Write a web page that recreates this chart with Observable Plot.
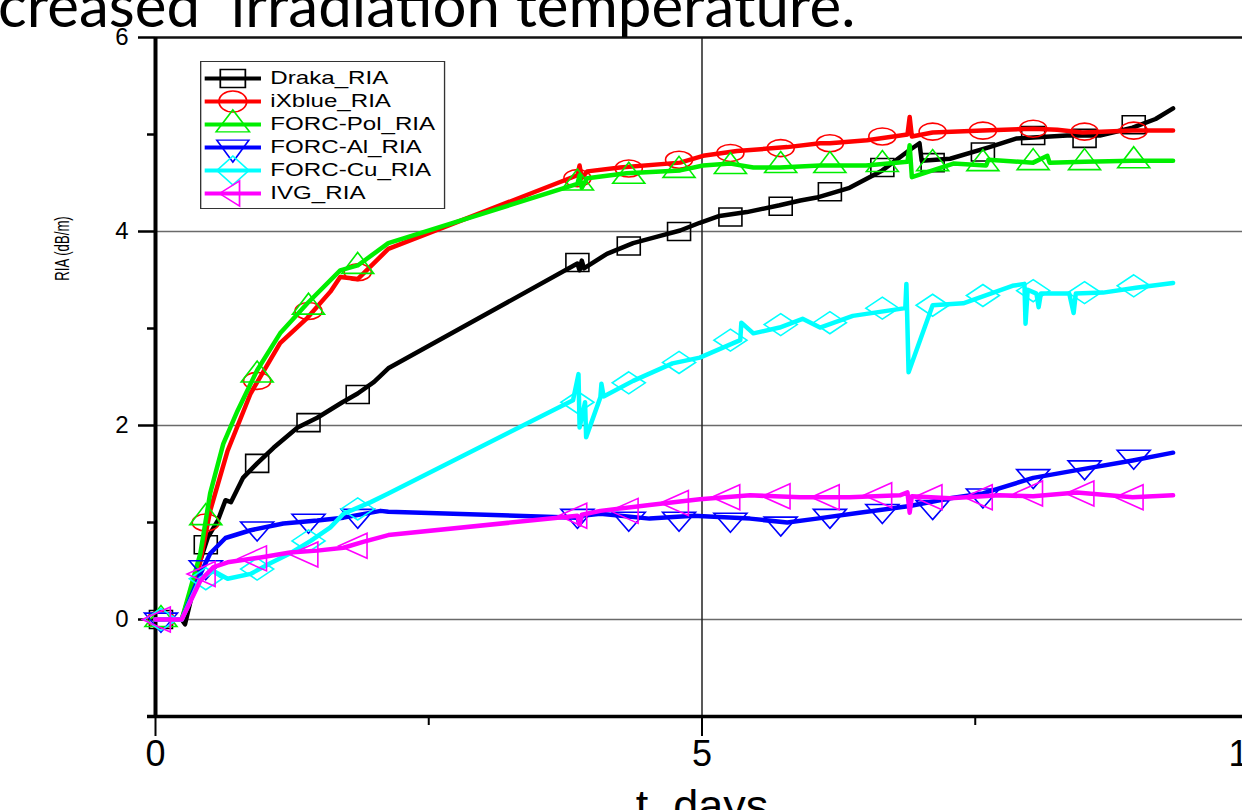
<!DOCTYPE html>
<html><head><meta charset="utf-8">
<script src="https://cdn.jsdelivr.net/npm/d3@7"></script>
<script src="https://cdn.jsdelivr.net/npm/@observablehq/plot@0.6"></script>
<style>
html,body{margin:0;padding:0;background:#fff;overflow:hidden;width:1242px;height:810px;}
#wrap{position:relative;width:1242px;height:810px;overflow:hidden;background:#fff;}
#chart{position:absolute;left:0;top:0;width:1262px;height:810px;}
#title{position:absolute;left:-2px;top:-16px;font-family:Lato,'Open Sans',sans-serif;font-size:60px;line-height:40px;height:40px;white-space:pre;color:#000;}
#legend{position:absolute;left:200px;top:61px;}
</style></head><body>
<div id="wrap"><div id="chart"></div><div id="title"></div><div id="legend"></div></div>
<script>
// ---------- data (t in days, RIA in dB/m) ----------
const seriesNames = ["Draka_RIA","iXblue_RIA","FORC-Pol_RIA","FORC-Al_RIA","FORC-Cu_RIA","IVG_RIA"];
const seriesColors = ["#000000","#ff0000","#00ee00","#0000ff","#00ffff","#ff00ff"];
const titleText = "creased  irradiation temperature.";
const xLabel = "t, days";
const yLabel = "RIA (dB/m)";
const majorX = [0,5,10], minorX = [2.5,7.5];
const majorY = [0,2,4,6], minorY = [-1,1,3,5];

const drakaT = [0,0.24,0.27,0.41,0.48,0.57,0.64,0.69,0.80,0.93,1.08,1.30,1.48,1.71,1.85,2.00,2.13,3.86,3.88,3.90,3.92,4.13,4.37,4.60,4.80,4.98,5.16,5.41,5.71,5.90,6.05,6.35,6.65,6.90,6.99,7.01,7.27,7.63,7.88,8.03,8.34,8.64,8.94,9.15,9.31];
const drakaV = [0,0,-0.05,0.61,0.85,1.02,1.23,1.21,1.46,1.61,1.77,1.98,2.08,2.24,2.33,2.45,2.59,3.67,3.60,3.70,3.62,3.77,3.88,3.95,4.01,4.09,4.16,4.20,4.27,4.32,4.35,4.45,4.63,4.84,4.91,4.73,4.75,4.87,4.96,4.97,4.99,4.99,5.07,5.16,5.27];

const ixblueT = [0,0.24,0.41,0.50,0.66,0.87,1.14,1.39,1.60,1.69,1.85,2.13,3.86,3.88,3.90,3.95,4.25,4.80,5.01,5.32,5.78,6.08,6.17,6.51,6.88,6.90,6.92,7.11,7.57,8.03,8.25,8.48,8.94,9.31];
const ixblueV = [0,0,0.60,1.12,1.74,2.33,2.85,3.11,3.38,3.53,3.51,3.82,4.58,4.68,4.55,4.62,4.66,4.71,4.78,4.83,4.87,4.91,4.91,4.94,5.00,5.18,4.98,5.02,5.04,5.06,5.05,5.02,5.04,5.04];

const polT = [0,0.24,0.41,0.50,0.62,0.75,0.93,1.14,1.39,1.69,1.85,2.13,3.86,3.88,3.90,3.95,4.31,4.80,5.01,5.26,5.47,5.71,6.08,6.50,6.88,6.90,6.92,7.30,7.60,7.62,8.03,8.16,8.18,8.50,8.94,9.31];
const polV = [0,0,0.68,1.30,1.81,2.15,2.57,2.95,3.26,3.60,3.65,3.88,4.49,4.58,4.45,4.55,4.60,4.63,4.68,4.70,4.66,4.66,4.68,4.68,4.72,4.89,4.56,4.70,4.68,4.74,4.71,4.78,4.71,4.72,4.73,4.73];

const alT = [0,0.24,0.41,0.50,0.64,0.87,1.17,1.48,1.72,2.06,2.13,3.86,3.88,3.90,4.07,4.52,4.92,5.44,5.78,6.05,6.44,6.90,7.27,7.57,8.03,8.43,8.94,9.31];
const alV = [0,0,0.47,0.68,0.84,0.92,0.99,1.02,1.05,1.12,1.11,1.05,0.98,1.07,1.09,1.04,1.07,1.04,1.00,1.04,1.10,1.17,1.25,1.30,1.46,1.54,1.64,1.72];

const cuT = [0,0.24,0.41,0.53,0.66,0.87,1.05,1.23,1.42,1.60,1.72,1.97,2.13,3.82,3.87,3.88,3.93,3.94,4.07,4.08,4.10,4.37,4.73,4.98,5.35,5.36,5.47,5.71,5.92,6.08,6.38,6.86,6.87,6.89,7.11,7.39,7.84,7.95,7.96,7.98,8.06,8.08,8.10,8.36,8.40,8.42,8.67,8.97,9.31];
const cuV = [0,0,0.42,0.50,0.42,0.47,0.58,0.68,0.81,0.95,1.09,1.21,1.30,2.26,2.53,1.98,2.24,1.88,2.29,2.43,2.30,2.46,2.64,2.70,2.88,3.06,2.95,3.01,3.10,3.01,3.13,3.21,3.46,2.55,3.24,3.26,3.44,3.46,3.05,3.40,3.36,3.22,3.36,3.36,3.16,3.36,3.37,3.42,3.47];

const ivgT = [0,0.24,0.41,0.53,0.66,0.96,1.23,1.48,1.72,1.90,2.13,3.86,3.88,3.90,4.07,4.52,4.98,5.44,5.90,6.35,6.81,6.88,6.90,6.92,7.27,7.72,8.03,8.43,8.94,9.31];
const ivgV = [0,0,0.40,0.54,0.59,0.64,0.69,0.71,0.74,0.80,0.87,1.07,0.98,1.08,1.12,1.18,1.24,1.28,1.26,1.26,1.28,1.31,1.10,1.27,1.25,1.28,1.27,1.31,1.26,1.28];

// symbol (marker) times, shared by all series
const markT = [0.05,0.46,0.93,1.40,1.85,3.86,4.33,4.79,5.26,5.72,6.17,6.65,7.11,7.57,8.03,8.50,8.95];
const drakaM  = [0,0.77,1.61,2.03,2.32,3.68,3.85,4.00,4.15,4.26,4.41,4.66,4.71,4.82,4.99,4.96,5.10];
const ixblueM = [0,1.00,2.46,3.18,3.58,4.55,4.65,4.74,4.81,4.86,4.91,4.98,5.03,5.04,5.06,5.03,5.04];
const polM    = [0,1.05,2.52,3.22,3.64,4.50,4.57,4.63,4.67,4.68,4.68,4.69,4.70,4.70,4.71,4.71,4.73];
const alM     = [0,0.54,0.94,1.02,1.07,1.07,1.04,1.04,1.03,0.99,1.07,1.12,1.16,1.28,1.48,1.57,1.68];
const cuM     = [0,0.42,0.52,0.81,1.14,2.24,2.44,2.65,2.88,3.04,3.06,3.21,3.24,3.34,3.39,3.37,3.44];
const ivgM    = [0,0.47,0.63,0.67,0.76,1.07,1.12,1.20,1.26,1.27,1.26,1.28,1.26,1.26,1.30,1.30,1.26];

// ---------- custom marker shapes ----------
function sym(kind, w, h) {
  return {draw(ctx) {
    const a = w / 2, b = h / 2, k = 0.5523;
    if (kind === "square") { ctx.moveTo(-a,-b); ctx.lineTo(a,-b); ctx.lineTo(a,b); ctx.lineTo(-a,b); ctx.closePath(); }
    else if (kind === "ellipse") { ctx.moveTo(a,0); ctx.bezierCurveTo(a,k*b,k*a,b,0,b); ctx.bezierCurveTo(-k*a,b,-a,k*b,-a,0); ctx.bezierCurveTo(-a,-k*b,-k*a,-b,0,-b); ctx.bezierCurveTo(k*a,-b,a,-k*b,a,0); ctx.closePath(); }
    else if (kind === "up") { ctx.moveTo(0,-2*h/3); ctx.lineTo(a,h/3); ctx.lineTo(-a,h/3); ctx.closePath(); }
    else if (kind === "down") { ctx.moveTo(0,2*h/3); ctx.lineTo(a,-h/3); ctx.lineTo(-a,-h/3); ctx.closePath(); }
    else if (kind === "diamond") { ctx.moveTo(0,-b); ctx.lineTo(a,0); ctx.lineTo(0,b); ctx.lineTo(-a,0); ctx.closePath(); }
    else if (kind === "left") { ctx.moveTo(-2*w/3,0); ctx.lineTo(w/3,-b); ctx.lineTo(w/3,b); ctx.closePath(); }
    else if (kind === "dash") { ctx.moveTo(-a,0); ctx.lineTo(a,0); }
  }};
}

const lineT = [drakaT, ixblueT, polT, alT, cuT, ivgT];
const lineV = [drakaV, ixblueV, polV, alV, cuV, ivgV];
const markV = [drakaM, ixblueM, polM, alM, cuM, ivgM];
const plotSyms = [sym("square",23,18), sym("ellipse",27,17), sym("up",32,21), sym("down",33,19), sym("diamond",33,22), sym("left",28,25)];
const legSyms  = [sym("square",18.7,18), sym("ellipse",20.7,21), sym("up",25,22), sym("down",24,22), sym("diamond",24,29), sym("left",15,25)];

const dataMarks = [];
seriesNames.forEach((name, i) => {
  const pts = lineT[i].map((t, j) => ({t, v: lineV[i][j]}));
  const mks = markT.map((t, j) => ({t, v: markV[i][j]}));
  dataMarks.push(Plot.line(pts, {x: "t", y: "v", stroke: seriesColors[i], strokeWidth: 4.5, strokeLinejoin: "round", strokeLinecap: "round"}));
  dataMarks.push(Plot.dot(mks, {x: "t", y: "v", symbol: plotSyms[i], stroke: seriesColors[i], fill: "none", strokeWidth: 1.6}));
});

const chart = Plot.plot({
  width: 1262, height: 810,
  marginLeft: 155, marginRight: 14, marginTop: 37, marginBottom: 94,
  x: {domain: [0, 10]},
  y: {domain: [-1, 6]},
  style: {fontFamily: "'Liberation Sans', Arial, sans-serif", background: "white", color: "black", overflow: "visible", maxWidth: "none"},
  marks: [
    Plot.gridY({ticks: [0, 2, 4], stroke: "#6a6a6a", strokeOpacity: 1, strokeWidth: 1.5}),
    Plot.gridX({ticks: [5], stroke: "#222", strokeOpacity: 1, strokeWidth: 1.5}),
    Plot.axisY({ticks: majorY, tickSize: 17, tickPadding: 10, fontSize: 24, strokeWidth: 2.5, tickFormat: d => String(d), label: null}),
    Plot.axisY({ticks: minorY, tickSize: 8, tickPadding: 4, strokeWidth: 2.5, tickFormat: () => "", label: null}),
    Plot.axisX({ticks: majorX, tickSize: 20, tickPadding: 4, fontSize: 36, strokeWidth: 2, tickFormat: d => String(d), label: null}),
    Plot.axisX({ticks: minorX, tickSize: 9, tickPadding: 4, strokeWidth: 2, tickFormat: () => "", label: null}),
    Plot.ruleY([6], {stroke: "#111", strokeWidth: 2.5}),
    Plot.ruleY([-1], {stroke: "#000", strokeWidth: 3.5, insetLeft: -8}),
    Plot.ruleX([0], {stroke: "#000", strokeWidth: 4}),
    ...dataMarks,
    Plot.text([yLabel], {text: d => d, frameAnchor: "top-left", dx: -93, dy: 211, rotate: -90, textAnchor: "middle", lineAnchor: "middle", fontSize: 20}),
    Plot.text([xLabel], {text: d => d, frameAnchor: "bottom", dy: 104, lineAnchor: "bottom", fontSize: 45})
  ]
});
chart.style.maxWidth = "none";
chart.style.width = "1262px";
chart.style.height = "810px";
// condense the y-axis title along its reading direction, as in the reference
d3.select(chart).selectAll("text").filter(function() { return this.textContent === yLabel; })
  .attr("transform", function() { return (this.getAttribute("transform") || "") + " scale(0.66,1)"; });
document.getElementById("chart").appendChild(chart);
document.getElementById("title").textContent = titleText;

// ---------- legend ----------
const legMarks = [];
seriesNames.forEach((name, i) => {
  legMarks.push(Plot.dot([name], {y: d => d, frameAnchor: "left", dx: 23, symbol: sym("dash", 42, 0), stroke: seriesColors[i], fill: "none", strokeWidth: 4}));
  legMarks.push(Plot.dot([name], {y: d => d, frameAnchor: "left", dx: 23, symbol: legSyms[i], stroke: seriesColors[i], fill: "none", strokeWidth: 1.3}));
});
legMarks.push(Plot.text(seriesNames, {y: d => d, text: d => d, frameAnchor: "left", dx: 51, textAnchor: "start", fontSize: 18, fill: "#000"}));
const legend = Plot.plot({
  width: 181, height: 146,
  marginLeft: 0, marginRight: 0, marginTop: 15, marginBottom: 14,
  y: {type: "point", domain: seriesNames, padding: 0, axis: null},
  style: {fontFamily: "'Liberation Sans', Arial, sans-serif", background: "white", overflow: "visible", maxWidth: "none"},
  marks: legMarks
});
legend.style.maxWidth = "none";
legend.style.transform = "scaleX(1.34)";
legend.style.transformOrigin = "0 0";
legend.style.border = "1.3px solid #333";
legend.style.display = "block";
document.getElementById("legend").appendChild(legend);
</script>
</body></html>
